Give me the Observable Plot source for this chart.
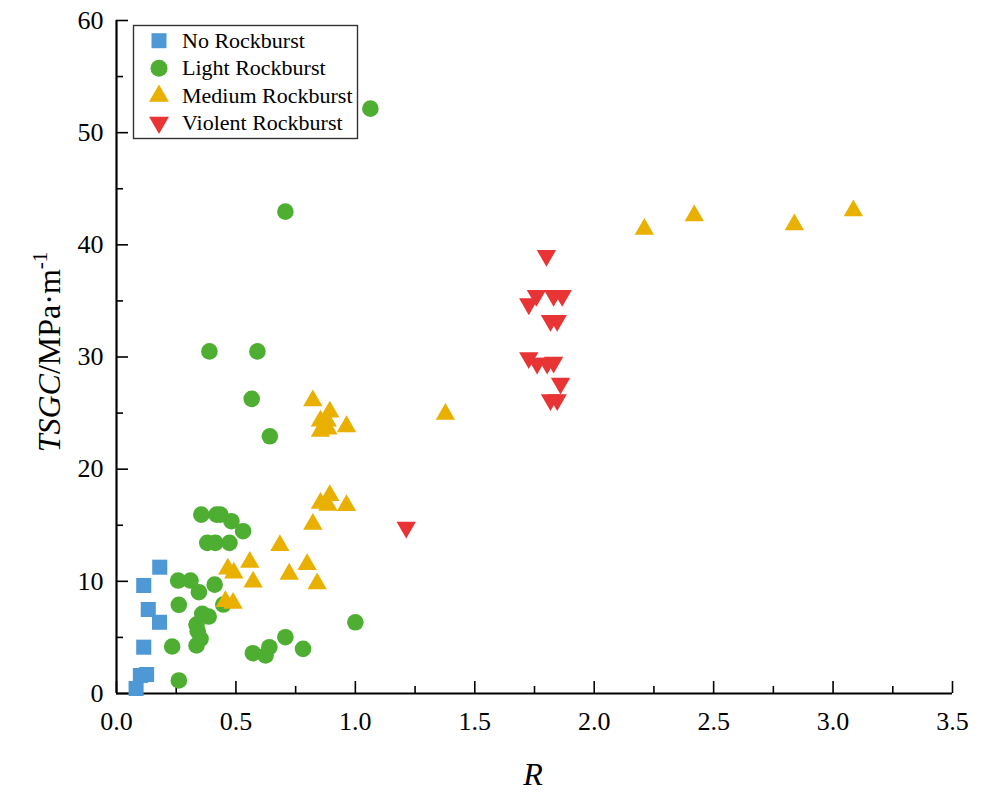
<!DOCTYPE html>
<html><head><meta charset="utf-8">
<script src="https://cdn.jsdelivr.net/npm/d3@7"></script>
<script src="https://cdn.jsdelivr.net/npm/@observablehq/plot@0.6"></script>
<style>
body{margin:0;background:#fff}
#wrap{position:relative;width:985px;height:792px}
</style>
</head><body><div id="wrap"></div>
<script>
const categories = ["No Rockburst", "Light Rockburst", "Medium Rockburst", "Violent Rockburst"];
const colors = ["#4f98d6", "#4dae31", "#e9b000", "#e83434"];

const noR    = [0.181, 0.114, 0.133, 0.180, 0.114, 0.100, 0.126, 0.082];
const noTSGC = [11.26, 9.63, 7.49, 6.35, 4.13, 1.60, 1.69, 0.45];

const lightR    = [1.063, 0.707, 0.389, 0.590, 0.566, 0.642, 0.355, 0.419, 0.435, 0.481, 0.530, 0.380, 0.414, 0.473,
                   0.258, 0.310, 0.345, 0.411, 0.261, 0.447, 0.359, 0.386, 0.335, 0.340, 0.352, 0.335, 0.233, 0.261,
                   0.571, 0.624, 0.640, 0.707, 0.781, 1.000];
const lightTSGC = [52.14, 42.96, 30.5, 30.5, 26.27, 22.93, 15.95, 15.95, 15.95, 15.36, 14.47, 13.43, 13.43, 13.43,
                   10.07, 10.07, 9.03, 9.71, 7.91, 7.93, 7.10, 6.86, 6.15, 5.55, 4.88, 4.28, 4.19, 1.16,
                   3.59, 3.39, 4.13, 5.02, 3.98, 6.35];

const medR    = [2.210, 2.419, 2.838, 3.085, 1.377, 0.822, 0.893, 0.854, 0.882, 0.854, 0.885, 0.963,
                 0.893, 0.854, 0.885, 0.963, 0.822, 0.684, 0.558, 0.466, 0.491, 0.798, 0.723, 0.572, 0.840, 0.456, 0.488];
const medTSGC = [41.4, 42.6, 41.8, 43.05, 24.9, 26.1, 25.1, 24.3, 24.3, 23.4, 23.6, 23.8,
                 17.65, 16.96, 16.8, 16.76, 15.09, 13.2, 11.7, 11.1, 10.75, 11.5, 10.65, 9.95, 9.8, 8.2, 8.05];

const vioR    = [1.800, 1.758, 1.726, 1.830, 1.866, 1.817, 1.845, 1.726, 1.761, 1.803, 1.830, 1.859, 1.817, 1.845, 1.213];
const vioTSGC = [39.04, 35.47, 34.73, 35.47, 35.47, 33.24, 33.24, 29.92, 29.44, 29.44, 29.53, 27.66, 26.18, 26.18, 14.82];

const xTicks = [0, 0.5, 1.0, 1.5, 2.0, 2.5, 3.0, 3.5];
const xMinor = [0.25, 0.75, 1.25, 1.75, 2.25, 2.75, 3.25];
const yTicks = [0, 10, 20, 30, 40, 50, 60];
const yMinor = [5, 15, 25, 35, 45, 55];

const rows = (xs, ys) => xs.map((x, i) => ({x, y: ys[i]}));

const W = 985, H = 792, mL = 116, mR = 33, mT = 20, mB = 99;
const plotW = W - mL - mR, plotH = H - mT - mB;
const serif = "'Liberation Serif', 'Times New Roman', serif";

const plot = Plot.plot({
  width: W, height: H,
  marginLeft: mL, marginRight: mR, marginTop: mT, marginBottom: mB,
  style: {fontFamily: serif, fontSize: "26px", color: "#000", background: "#fff", overflow: "visible"},
  x: {domain: [0, 3.5]},
  y: {domain: [0, 60]},
  marks: [
    Plot.axisX(xTicks, {tickSize: 0, tickPadding: 18, fontSize: 26, tickFormat: d => d.toFixed(1), label: null}),
    Plot.axisY(yTicks, {tickSize: 0, tickPadding: 13, fontSize: 26, label: null}),
    Plot.tickX(xTicks, {x: d => d, insetTop: plotH - 12, stroke: "#000", strokeWidth: 1.6}),
    Plot.tickX(xMinor, {x: d => d, insetTop: plotH - 7, stroke: "#000", strokeWidth: 1.6}),
    Plot.tickY(yTicks, {y: d => d, insetRight: plotW - 12, stroke: "#000", strokeWidth: 1.6}),
    Plot.tickY(yMinor, {y: d => d, insetRight: plotW - 7, stroke: "#000", strokeWidth: 1.6}),
    Plot.ruleX([0], {stroke: "#000", strokeWidth: 2.2}),
    Plot.ruleY([0], {stroke: "#000", strokeWidth: 2.2}),
    Plot.dot(rows(noR, noTSGC), {x: "x", y: "y", symbol: "square", r: 8.5, fill: colors[0]}),
    Plot.dot(rows(lightR, lightTSGC), {x: "x", y: "y", symbol: "circle", r: 8.3, fill: colors[1]}),
    Plot.dot(rows(medR, medTSGC), {x: "x", y: "y", symbol: "triangle", r: 7.2, fill: colors[2]}),
    Plot.dot(rows(vioR, vioTSGC), {x: "x", y: "y", symbol: "triangle", r: 7.2, rotate: 180, fill: colors[3]})
  ]
});

document.getElementById("wrap").appendChild(plot);

const svg = d3.select(plot);

// axis titles
svg.append("text")
  .attr("x", 533).attr("y", 785)
  .attr("text-anchor", "middle")
  .attr("font-family", serif).attr("font-size", 32).attr("font-style", "italic")
  .attr("fill", "#000")
  .text("R");

const yl = svg.append("text")
  .attr("transform", "translate(60,352) rotate(-90)")
  .attr("text-anchor", "middle")
  .attr("font-family", serif).attr("font-size", 32)
  .attr("fill", "#000");
yl.append("tspan").attr("font-style", "italic").text("TSGC");
yl.append("tspan").text("/MPa·m");
yl.append("tspan").attr("font-size", 21).attr("dy", -13).text("-1");

// legend
const lg = svg.append("g");
lg.append("rect").attr("x", 133.5).attr("y", 25.5).attr("width", 224).attr("height", 113)
  .attr("fill", "#fff").attr("stroke", "#333").attr("stroke-width", 1.4);
const legendSymbols = [
  {type: d3.symbolSquare, size: 15 * 15, rot: 0},
  {type: d3.symbolCircle, size: Math.PI * 8.5 * 8.5, rot: 0},
  {type: d3.symbolTriangle, size: Math.PI * 7.4 * 7.4, rot: 0},
  {type: d3.symbolTriangle, size: Math.PI * 7.4 * 7.4, rot: 180}
];
const rowY = [40.7, 68.3, 96, 122.5];
categories.forEach((c, i) => {
  lg.append("path")
    .attr("d", d3.symbol(legendSymbols[i].type, legendSymbols[i].size)())
    .attr("transform", `translate(159,${rowY[i]}) rotate(${legendSymbols[i].rot})`)
    .attr("fill", colors[i]);
  lg.append("text")
    .attr("x", 182).attr("y", rowY[i] + 7)
    .attr("text-anchor", "start")
    .attr("font-family", serif).attr("font-size", 22)
    .attr("fill", "#000")
    .text(c);
});
</script>
</body></html>
